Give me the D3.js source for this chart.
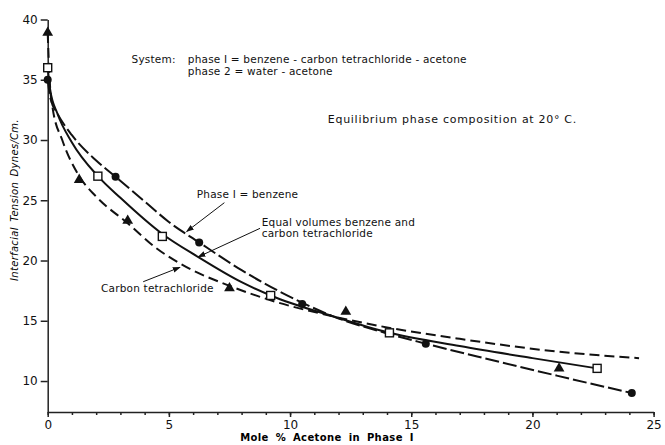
<!DOCTYPE html>
<html>
<head>
<meta charset="utf-8">
<script src="https://cdn.jsdelivr.net/npm/d3@7"></script>
<style>
  body { margin: 0; background: #fff; }
  svg { display: block; font-family: "DejaVu Sans", sans-serif; }
</style>
</head>
<body>
<div id="chart"></div>
<script>
// measured points (mole % acetone, interfacial tension)
benzenePts = [[0, 35.0], [2.8, 26.95], [6.25, 21.5], [10.5, 16.4], [15.6, 13.1], [24.1, 9.0]];
equalPts = [[0, 36.0], [2.07, 27.0], [4.73, 22.0], [9.2, 17.1], [14.1, 14.0], [22.67, 11.05]];
carbonPts = [[0, 38.9], [1.3, 26.7], [3.3, 23.3], [7.5, 17.7], [12.3, 15.75], [21.1, 11.05]];

// drawn curves
benzeneCurve = [[0, 35.0], [0.12, 33.4], [0.4, 32.2], [1, 30.4], [2, 28.3], [2.8, 26.95], [4, 24.9], [5, 23.2],
    [6.25, 21.5], [8, 19.2], [10.5, 16.5], [11.8, 15.35], [14, 13.95], [15.6, 13.1], [18, 11.9], [21, 10.45], [24.1, 9.0]];
equalCurve = [[0, 36.0], [0.1, 34.2], [0.4, 32.2], [1, 29.8], [2.07, 27.0], [3, 25.2], [4.73, 22.2], [6.2, 20.3],
    [8, 18.2], [9.2, 17.1], [11.8, 15.35], [14.1, 14.0], [17, 12.9], [20, 11.9], [22.67, 11.05]];
carbonCurve = [[0, 38.9], [0.08, 35.0], [0.2, 32.7], [0.6, 30.0], [1.3, 27.0], [2, 25.3], [3.3, 23.1], [4.5, 21.0],
    [5.5, 19.7], [7.5, 17.9], [9.2, 16.7], [11.8, 15.35], [14, 14.45], [17, 13.5], [21, 12.45], [24.4, 11.9]];

xTicks = [0, 5, 10, 15, 20, 25];
yTicks = [10, 15, 20, 25, 30, 35, 40];

notes = [
    { text: "System:", x: 3.46, y: 36.35 },
    { text: "phase I = benzene - carbon tetrachloride - acetone", x: 5.78, y: 36.35 },
    { text: "phase 2 = water - acetone", x: 5.78, y: 35.42 },
    { text: "Phase I = benzene", x: 6.15, y: 25.2 },
    { text: "Equal volumes benzene and", x: 8.83, y: 22.9 },
    { text: "carbon tetrachloride", x: 8.83, y: 21.95 },
    { text: "Carbon tetrachloride", x: 2.2, y: 17.4 },
];
titleNote = { text: "Equilibrium phase composition at 20° C.", x: 11.56, y: 31.37 };
arrows = [
    [[7.29, 24.8], [5.73, 22.4]],
    [[8.76, 22.67], [6.21, 20.3]],
    [[3.94, 18.24], [5.46, 19.44]],
];

const width = 665, height = 445;

var svg = d3.select("#chart").append("svg")
    .attr("width", width)
    .attr("height", height);

var x = d3.scaleLinear().domain([0, 25]).range([47.7, 653.6]);
var y = d3.scaleLinear().domain([7.43, 40]).range([412, 19.5]);

// axes
var gx = svg.append("g").attr("transform", `translate(0,${y(7.43)})`);
gx.call(d3.axisBottom(x).tickValues(d3.range(0, 26, 1)).tickSize(3).tickFormat(""))
    .call(g => g.select(".domain").remove());
gx.append("g").call(d3.axisBottom(x).tickValues(xTicks).tickSize(5).tickSizeOuter(0).tickPadding(3))
    .call(g => g.selectAll("text").attr("font-size", 12).attr("font-family", "DejaVu Sans").attr("fill", "#111"));
gx.selectAll("path, line").attr("stroke", "#222").attr("stroke-width", 1.5);

var gy = svg.append("g").attr("transform", `translate(${x(0)},0)`);
gy.call(d3.axisLeft(y).tickValues(yTicks).tickSize(7).tickSizeOuter(0).tickPadding(3))
    .call(g => g.selectAll("text").attr("font-size", 12).attr("font-family", "DejaVu Sans").attr("fill", "#111"));
gy.selectAll("path, line").attr("stroke", "#222").attr("stroke-width", 1.5);

svg.append("text")
    .attr("x", 327).attr("y", 441)
    .attr("text-anchor", "middle")
    .attr("font-size", 10).attr("font-weight", "bold")
    .attr("letter-spacing", 0.4).attr("word-spacing", 3)
    .text("Mole % Acetone in Phase I");

svg.append("text")
    .attr("transform", "translate(18,200) rotate(-90)")
    .attr("text-anchor", "middle")
    .attr("font-size", 10).attr("font-style", "italic")
    .attr("letter-spacing", 0.3).attr("word-spacing", 2)
    .text("Interfacial Tension Dynes/Cm.");

// curves
const line = d3.line()
    .x(d => x(d[0]))
    .y(d => y(d[1]))
    .curve(d3.curveMonotoneX);

svg.append("path").attr("d", line(carbonCurve))
    .attr("fill", "none").attr("stroke", "#111").attr("stroke-width", 2)
    .attr("stroke-dasharray", "10,5");
svg.append("path").attr("d", line(benzeneCurve))
    .attr("fill", "none").attr("stroke", "#111").attr("stroke-width", 2)
    .attr("stroke-dasharray", "14,4");
svg.append("path").attr("d", line(equalCurve))
    .attr("fill", "none").attr("stroke", "#111").attr("stroke-width", 2);

// markers
svg.selectAll(".tri").data(carbonPts).join("path")
    .attr("class", "tri")
    .attr("transform", d => `translate(${x(d[0])},${y(d[1])})`)
    .attr("d", d3.symbol(d3.symbolTriangle, 50))
    .attr("fill", "#111");
svg.selectAll(".sq").data(equalPts).join("rect")
    .attr("class", "sq")
    .attr("x", d => x(d[0]) - 4).attr("y", d => y(d[1]) - 4)
    .attr("width", 8).attr("height", 8)
    .attr("fill", "#fff").attr("stroke", "#111").attr("stroke-width", 1.4);
svg.selectAll(".dot").data(benzenePts).join("circle")
    .attr("class", "dot")
    .attr("cx", d => x(d[0])).attr("cy", d => y(d[1]))
    .attr("r", 4)
    .attr("fill", "#111");

// annotations
svg.append("defs").append("marker")
    .attr("id", "head")
    .attr("viewBox", "0 0 10 10")
    .attr("refX", 9).attr("refY", 5)
    .attr("markerWidth", 8).attr("markerHeight", 8)
    .attr("orient", "auto")
    .append("path").attr("d", "M0,1.5L10,5L0,8.5Z").attr("fill", "#111");

svg.selectAll(".arrow").data(arrows).join("line")
    .attr("class", "arrow")
    .attr("x1", d => x(d[0][0])).attr("y1", d => y(d[0][1]))
    .attr("x2", d => x(d[1][0])).attr("y2", d => y(d[1][1]))
    .attr("stroke", "#111").attr("stroke-width", 1)
    .attr("marker-end", "url(#head)");

svg.selectAll(".note").data(notes).join("text")
    .attr("class", "note")
    .attr("x", d => x(d.x)).attr("y", d => y(d.y))
    .attr("font-size", 10.5)
    .attr("letter-spacing", 0.2)
    .attr("fill", "#111")
    .text(d => d.text);

svg.append("text")
    .attr("x", x(titleNote.x)).attr("y", y(titleNote.y))
    .attr("font-size", 11)
    .attr("letter-spacing", 0.7)
    .attr("fill", "#111")
    .text(titleNote.text);
</script>
</body>
</html>
